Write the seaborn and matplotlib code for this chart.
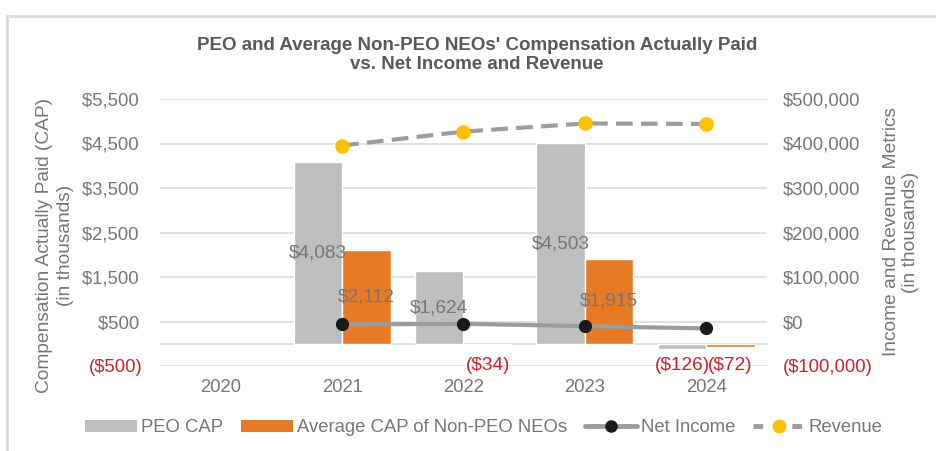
import numpy as np
import pandas as pd
import matplotlib.pyplot as plt
import seaborn as sns
from matplotlib.patches import Patch
from matplotlib.lines import Line2D

# data (in thousands)
years = ['2020', '2021', '2022', '2023', '2024']
peo_cap = [np.nan, 4083, 1624, 4503, -126]
neo_cap = [np.nan, 2112, -34, 1915, -72]
net_income = [np.nan, -6700, -5200, -10400, -15600]
revenue = [np.nan, 395500, 426800, 445000, 444000]
series_names = ['PEO CAP', 'Average CAP of Non-PEO NEOs']

left_ticks = list(range(-500, 5501, 1000))
right_ticks = list(range(-100000, 500001, 100000))

GRAY_BAR = '#BDBFBE'
ORANGE = '#E67A25'
LINE_GRAY = '#9C9C9C'
GOLD = '#FFC000'
TXT = '#767676'
RED = '#C8232A'
GRID = '#DCDCDC'

sns.set_theme(style='white')
plt.rcParams['font.family'] = ['Liberation Sans', 'DejaVu Sans']

df = pd.DataFrame({
    'Year': years * 2,
    'Series': [series_names[0]] * len(years) + [series_names[1]] * len(years),
    'CAP': peo_cap + neo_cap,
}).dropna()

fig = plt.figure(figsize=(9.37, 4.51), dpi=100)
ax = fig.add_axes([160 / 937, 1 - 366 / 451, 607 / 937, 267 / 451])

sns.barplot(data=df, x='Year', y='CAP', hue='Series', order=years,
            hue_order=series_names, palette=[GRAY_BAR, ORANGE],
            width=0.8, gap=0, saturation=1, legend=False, ax=ax, zorder=2)

ax.set_xlim(-0.5, len(years) - 0.5)
ax.set_ylim(left_ticks[0], left_ticks[-1])
ax.set_yticks(left_ticks)
ax.set_yticklabels([f'${v:,}\u2009' if v >= 0 else f'(${-v:,})' for v in left_ticks])
for lbl, v in zip(ax.get_yticklabels(), left_ticks):
    lbl.set_color(RED if v < 0 else TXT)
ax.tick_params(axis='y', length=0, pad=12.5, labelsize=13.3)
ax.tick_params(axis='x', length=0, pad=9, labelsize=13.3, colors=TXT)
ax.set_xlabel('')
ax.set_ylabel('')
for t in left_ticks:
    ax.axhline(t, color=GRID, lw=1.2, zorder=0)
ax.axhline(0, color=GRID, lw=1.2, zorder=0)
for s in ax.spines.values():
    s.set_visible(False)

# data labels
for cont in ax.containers:
    for bar in cont:
        h = bar.get_height()
        if np.isnan(h):
            continue
        x = bar.get_x() + bar.get_width() / 2
        if h > 0:
            ax.text(x, h / 2, f'${h:,.0f}', ha='center', va='center',
                    fontsize=13.7, color=TXT, zorder=5)
        else:
            ax.text(x, left_ticks[0], f'(${-h:,.0f})', ha='center', va='center',
                    fontsize=13.7, color=RED, zorder=5)

# secondary axis
ax2 = ax.twinx()
xpos = np.arange(len(years))
ax2.plot(xpos, net_income, color=LINE_GRAY, lw=3, marker='o', ms=8.5,
         mfc='#1A1A1A', mec='#1A1A1A', zorder=3)
ax2.plot(xpos, revenue, color=LINE_GRAY, lw=3, ls=(0, (4, 2)), marker='o', ms=9.5,
         mfc=GOLD, mec=GOLD, zorder=3)
ax2.set_ylim(right_ticks[0], right_ticks[-1])
ax2.set_yticks(right_ticks)
ax2.set_yticklabels([f'${v:,}' if v >= 0 else f'(${-v:,})' for v in right_ticks])
for lbl, v in zip(ax2.get_yticklabels(), right_ticks):
    lbl.set_color(RED if v < 0 else TXT)
ax2.tick_params(axis='y', length=0, pad=11.5, labelsize=13.3)
ax2.grid(False)
for s in ax2.spines.values():
    s.set_visible(False)

# titles and axis labels
fig.text(477 / 937, 1 - 55 / 451,
         "PEO and Average Non-PEO NEOs' Compensation Actually Paid\nvs. Net Income and Revenue",
         ha='center', va='center', fontsize=13.5, fontweight='bold', color='#595959',
         linespacing=1.22)
fig.text(55 / 937, 1 - 245 / 451, 'Compensation Actually Paid (CAP)\n(in thousands)',
         rotation=90, ha='center', va='center', multialignment='center',
         fontsize=13.8, color=TXT, linespacing=1.25)
fig.text(901 / 937, 1 - 232 / 451, 'Income and Revenue Metrics\n(in thousands)',
         rotation=90, ha='center', va='center', multialignment='center',
         fontsize=13.8, color=TXT, linespacing=1.2)

# legend
handles = [
    Patch(facecolor=GRAY_BAR, edgecolor='none'),
    Patch(facecolor=ORANGE, edgecolor='none'),
    Line2D([], [], color=LINE_GRAY, lw=3.5, marker='o', ms=8, mfc='#1A1A1A', mec='#1A1A1A'),
    Line2D([], [], color=LINE_GRAY, lw=3.5, ls=(0, (2, 2)), marker='o', ms=9, mfc=GOLD, mec=GOLD),
]
labels = series_names + ['Net Income', 'Revenue']
leg = fig.legend(handles, labels, loc='center', bbox_to_anchor=(484 / 937, 1 - 428 / 451),
                 ncol=4, frameon=False, fontsize=13.3, handlelength=2.8, handleheight=0.6,
                 handletextpad=0.2, columnspacing=1.0, labelcolor=TXT)

# chart frame
fig.add_artist(Line2D([7 / 937, 7 / 937], [0, 1 - 15.5 / 451], transform=fig.transFigure,
                      color='#D9D9D9', lw=2))
fig.add_artist(Line2D([7 / 937, 1], [1 - 15.5 / 451, 1 - 15.5 / 451], transform=fig.transFigure,
                      color='#D9D9D9', lw=2))

fig.savefig('out.png', dpi=100)
